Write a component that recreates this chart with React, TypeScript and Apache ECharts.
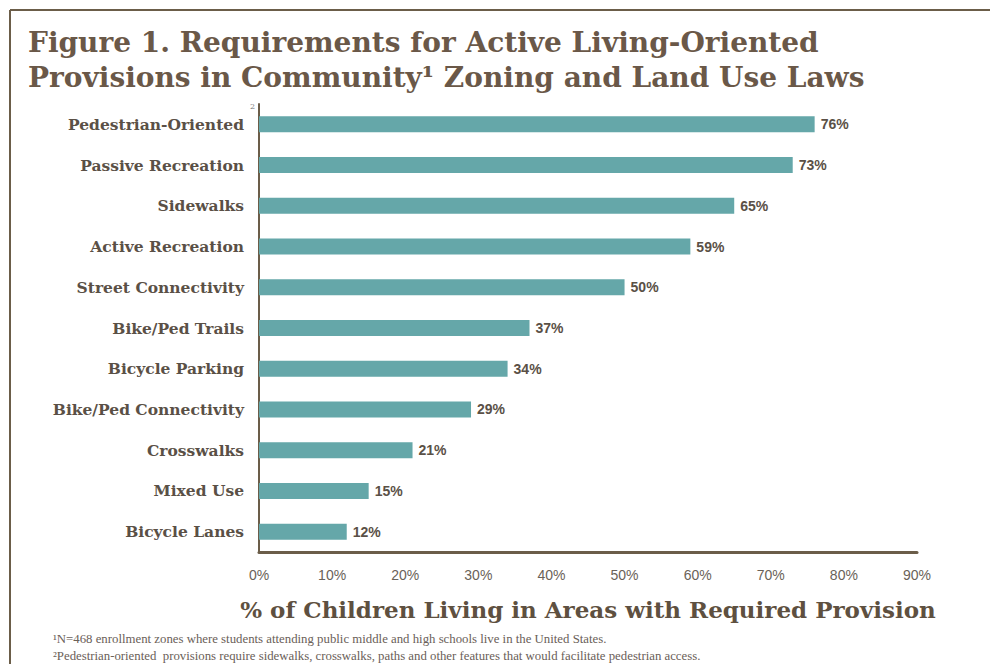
import React, { useEffect, useRef } from "react";
import * as echarts from "echarts";

const categories = [
  "Pedestrian-Oriented",
  "Passive Recreation",
  "Sidewalks",
  "Active Recreation",
  "Street Connectivity",
  "Bike/Ped Trails",
  "Bicycle Parking",
  "Bike/Ped Connectivity",
  "Crosswalks",
  "Mixed Use",
  "Bicycle Lanes",
];
const values = [76, 73, 65, 59, 50, 37, 34, 29, 21, 15, 12];
const xTicks = { min: 0, max: 90, interval: 10 };

const titleText = "Figure 1. Requirements for Active Living-Oriented\nProvisions in Community\u00B9 Zoning and Land Use Laws";
const axisTitle = "% of Children Living in Areas with Required Provision";
const footnotes = [
  "\u00B9N=468 enrollment zones where students attending public middle and high schools live in the United States.",
  "\u00B2Pedestrian-oriented  provisions require sidewalks, crosswalks, paths and other features that would facilitate pedestrian access.",
];

const BROWN = "#6b5d49";
const TEXT = "#5a5046";
const BAR = "#65a7a9";

export default function App() {
  const ref = useRef<HTMLDivElement>(null);
  useEffect(() => {
    if (!ref.current) return;
    const chart = echarts.init(ref.current, null, { renderer: "svg" });
    chart.setOption({
      animation: false,
      backgroundColor: "#ffffff",
      title: {
        text: titleText,
        left: 23,
        top: 20,
        textStyle: {
          fontFamily: "DejaVu Serif",
          fontWeight: "bold",
          fontSize: 28,
          lineHeight: 35,
          color: "#6a5848",
        },
      },
      grid: { left: 259, right: 73, top: 104, bottom: 112, containLabel: false },
      xAxis: {
        type: "value",
        min: xTicks.min,
        max: xTicks.max,
        interval: xTicks.interval,
        axisLine: { show: true, lineStyle: { color: BROWN, width: 3 } },
        axisTick: { show: false },
        splitLine: { show: false },
        axisLabel: {
          formatter: (v: number) => v + "%",
          fontFamily: "Liberation Sans",
          fontSize: 14,
          color: "#6a6258",
          margin: 16,
        },
        name: axisTitle,
        nameLocation: "middle",
        nameGap: 46,
        nameTextStyle: {
          fontFamily: "DejaVu Serif",
          fontWeight: "bold",
          fontSize: 23,
          color: "#5e5040",
        },
      },
      yAxis: {
        type: "category",
        data: categories,
        inverse: true,
        axisLine: { show: true, lineStyle: { color: BROWN, width: 2 } },
        axisTick: { show: false },
        axisLabel: {
          fontFamily: "DejaVu Serif",
          fontWeight: "bold",
          fontSize: 15.5,
          color: TEXT,
          margin: 15,
        },
      },
      series: [
        {
          type: "bar",
          data: values,
          barWidth: 16,
          itemStyle: { color: BAR },
          label: {
            show: true,
            position: "right",
            distance: 6,
            formatter: "{c}%",
            fontFamily: "Liberation Sans",
            fontWeight: "bold",
            fontSize: 14,
            color: TEXT,
          },
        },
      ],
      graphic: [
        { type: "line", shape: { x1: 10, y1: 10, x2: 990, y2: 10 }, style: { stroke: BROWN, lineWidth: 2 } },
        { type: "line", shape: { x1: 10, y1: 10, x2: 10, y2: 664 }, style: { stroke: BROWN, lineWidth: 2 } },
        {
          type: "text",
          x: 250,
          y: 102,
          style: { text: "2", fontSize: 8, fontFamily: "DejaVu Serif", fill: "#777" },
        },
        {
          type: "text",
          x: 53,
          y: 632,
          style: { text: footnotes[0], fontFamily: "Liberation Serif", fontSize: 12.8, fill: "#6a6058" },
        },
        {
          type: "text",
          x: 53,
          y: 649,
          style: { text: footnotes[1], fontFamily: "Liberation Serif", fontSize: 12.8, fill: "#6a6058" },
        },
      ],
    });
    return () => chart.dispose();
  }, []);
  return <div ref={ref} style={{ width: 990, height: 664, position: "absolute", left: 0, top: 0 }} />;
}
